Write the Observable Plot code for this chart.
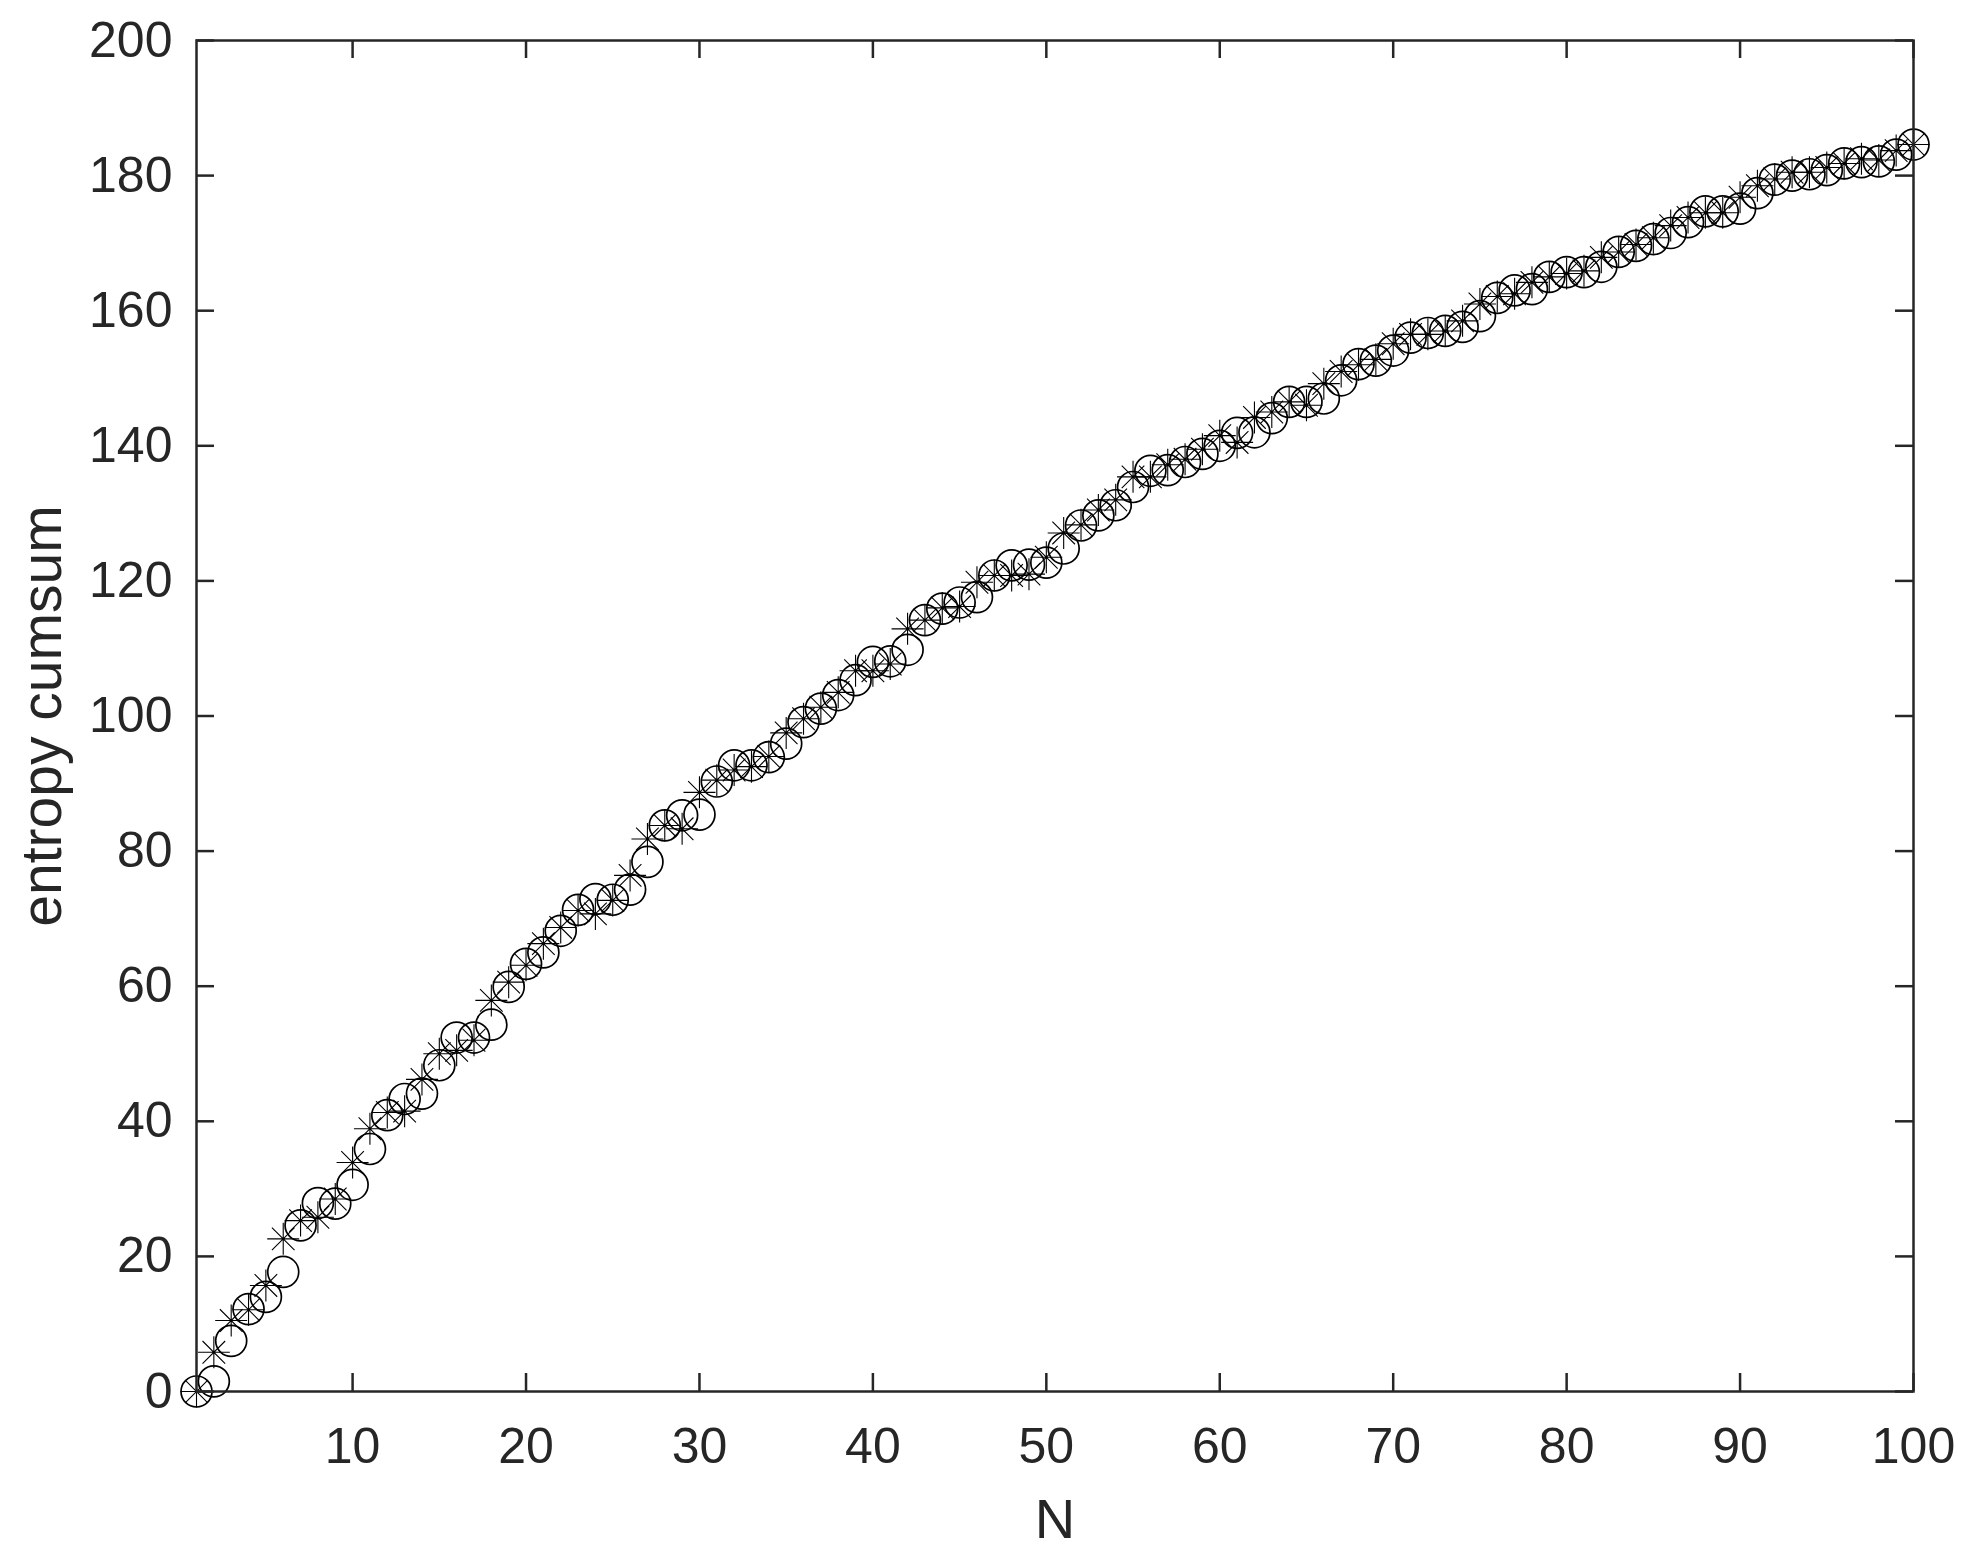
<!DOCTYPE html>
<html>
<head>
<meta charset="utf-8">
<script src="https://cdn.jsdelivr.net/npm/d3@7"></script>
<script src="https://cdn.jsdelivr.net/npm/@observablehq/plot@0.6"></script>
<style>
  html, body { margin: 0; padding: 0; background: white; }
</style>
</head>
<body>
<div id="chart"></div>
<script>
// N values
const nValues = d3.range(1, 101);

// series drawn with circles
const circleValues = [
  0, 1.5, 7.5, 12.2, 14.0, 17.7, 24.6, 27.9, 27.8, 30.6,
  35.9, 40.9, 43.3, 44.1, 48.3, 52.4, 52.4, 54.3, 59.9, 63.3,
  65.0, 68.2, 71.3, 72.9, 72.8, 74.3, 78.4, 83.8, 85.3, 85.4,
  90.3, 92.7, 92.7, 93.9, 95.9, 99.1, 101.1, 103.1, 105.3, 108.0,
  108.1, 109.8, 114.2, 115.9, 116.8, 117.6, 120.8, 122.3, 122.4, 122.7,
  124.8, 128.2, 129.7, 131.2, 133.9, 136.3, 136.4, 137.6, 138.8, 140.0,
  141.9, 142.0, 144.1, 146.5, 146.5, 147.0, 149.7, 152.1, 152.6, 154.1,
  156.0, 156.7, 157.0, 157.6, 159.2, 161.9, 163.0, 163.2, 165.0, 165.7,
  165.7, 166.5, 168.7, 169.6, 170.6, 171.5, 173.1, 174.7, 174.7, 175.1,
  177.4, 179.4, 180.0, 180.2, 180.8, 181.8, 182.0, 182.1, 183.1, 184.6
];

// series drawn with asterisks
const starValues = [
  0, 5.8, 10.5, 12.1, 15.7, 22.6, 25.3, 25.8, 28.5, 33.9,
  38.9, 41.3, 41.5, 46.2, 50.0, 50.5, 52.0, 57.9, 60.6, 63.1,
  66.3, 68.7, 71.2, 70.7, 72.7, 76.4, 81.8, 83.8, 83.3, 88.7,
  90.5, 92.0, 92.5, 94.0, 97.5, 99.6, 101.3, 103.5, 106.7, 106.7,
  107.7, 112.9, 114.2, 116.0, 116.2, 119.8, 120.8, 120.8, 121.0, 123.5,
  127.1, 128.3, 130.5, 132.0, 135.4, 135.4, 137.2, 138.0, 139.5, 141.5,
  140.5, 144.2, 145.0, 146.5, 146.0, 149.2, 151.0, 152.0, 152.8, 155.1,
  156.5, 156.5, 157.0, 158.5, 161.0, 162.1, 162.5, 164.2, 165.0, 165.5,
  165.9, 167.9, 168.7, 169.8, 170.8, 172.6, 173.8, 174.5, 174.5, 176.8,
  178.5, 179.5, 180.5, 180.5, 181.2, 181.8, 182.5, 182.3, 183.7, 184.6
];

const xTicks = [10, 20, 30, 40, 50, 60, 70, 80, 90, 100];
const yTicks = [0, 20, 40, 60, 80, 100, 120, 140, 160, 180, 200];
const xLabel = "N";
const yLabel = "entropy cumsum";

const circleData = nValues.map((n, i) => ({N: n, v: circleValues[i]}));
const starData = nValues.map((n, i) => ({N: n, v: starValues[i]}));

// MATLAB-like 8-armed asterisk
const star8 = {
  draw(context, size) {
    const r = Math.sqrt(size / Math.PI);
    const d = r * Math.SQRT1_2;
    context.moveTo(-r, 0); context.lineTo(r, 0);
    context.moveTo(0, -r); context.lineTo(0, r);
    context.moveTo(-d, -d); context.lineTo(d, d);
    context.moveTo(-d, d); context.lineTo(d, -d);
  }
};

const W = 1971, H = 1557;
const mL = 196, mR = 58, mT = 40, mB = 166;
const plotW = W - mL - mR, plotH = H - mT - mB;
const tickLen = 18;
const axisColor = "#262626";

const chart = Plot.plot({
  width: W,
  height: H,
  marginLeft: mL,
  marginRight: mR,
  marginTop: mT,
  marginBottom: mB,
  style: {fontFamily: "'Liberation Sans', Arial, Helvetica, sans-serif", color: axisColor, background: "white"},
  x: {domain: [1, 100]},
  y: {domain: [0, 200]},
  marks: [
    Plot.dot(starData, {x: "N", y: "v", symbol: star8, r: 16, stroke: "black", strokeWidth: 1.1, fill: "none"}),
    Plot.dot(circleData, {x: "N", y: "v", r: 15.5, stroke: "black", strokeWidth: 1.7, fill: "none"}),
    // inward ticks
    Plot.tickX(xTicks, {x: d => d, stroke: axisColor, strokeWidth: 2.5, insetTop: plotH - tickLen}),
    Plot.tickX(xTicks, {x: d => d, stroke: axisColor, strokeWidth: 2.5, insetBottom: plotH - tickLen}),
    Plot.tickY(yTicks, {y: d => d, stroke: axisColor, strokeWidth: 2.5, insetRight: plotW - tickLen}),
    Plot.tickY(yTicks, {y: d => d, stroke: axisColor, strokeWidth: 2.5, insetLeft: plotW - tickLen}),
    Plot.frame({stroke: axisColor, strokeWidth: 2.5}),
    Plot.axisX(xTicks, {tickSize: 0, tickPadding: 36, fontSize: 50, label: null, fill: axisColor}),
    Plot.axisY(yTicks, {tickSize: 0, tickPadding: 24, fontSize: 50, label: null, fill: axisColor}),
    Plot.text([xLabel], {text: d => d, frameAnchor: "bottom", dy: 146, lineAnchor: "bottom", fontSize: 56, fill: axisColor}),
    Plot.text([yLabel], {text: d => d, frameAnchor: "left", dx: -136, rotate: -90, textAnchor: "middle", lineAnchor: "bottom", fontSize: 57, fill: axisColor})
  ]
});

document.getElementById("chart").appendChild(chart);
</script>
</body>
</html>
